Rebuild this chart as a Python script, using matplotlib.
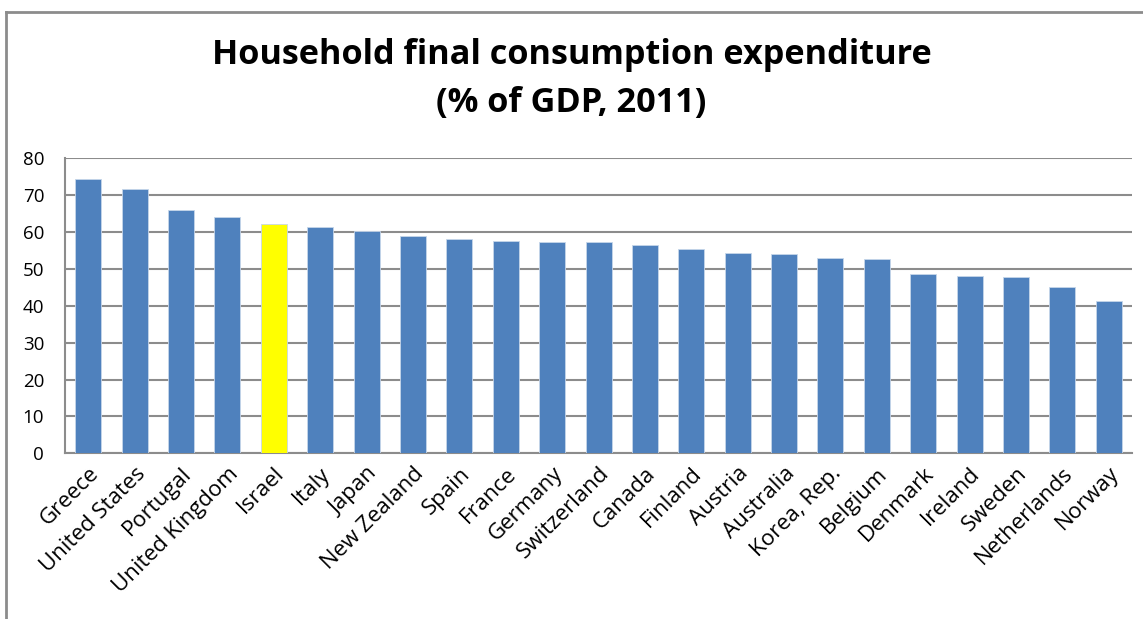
import matplotlib
matplotlib.use("Agg")
import matplotlib.pyplot as plt
from matplotlib.lines import Line2D

countries = ["Greece", "United States", "Portugal", "United Kingdom", "Israel",
             "Italy", "Japan", "New Zealand", "Spain", "France", "Germany",
             "Switzerland", "Canada", "Finland", "Austria", "Australia",
             "Korea, Rep.", "Belgium", "Denmark", "Ireland", "Sweden",
             "Netherlands", "Norway"]
values = [74.5, 71.6, 66.1, 64.2, 62.3, 61.4, 60.4, 59.0, 58.1, 57.7, 57.2,
          57.2, 56.6, 55.3, 54.3, 54.0, 52.9, 52.6, 48.7, 48.2, 47.8, 45.0, 41.2]
highlight = "Israel"
yticks = [0, 10, 20, 30, 40, 50, 60, 70, 80]

BLUE = "#4F81BD"
YELLOW = "#FFFF00"
GRID = "#8C8C8C"

plt.rcParams["font.family"] = ["Open Sans", "DejaVu Sans"]

fig = plt.figure(figsize=(11.43, 6.19), dpi=100)
ax = fig.add_axes([0.0569, 0.2677, 0.9335, 0.4766])

colors = [YELLOW if c == highlight else BLUE for c in countries]
x = list(range(len(countries)))
ax.bar(x, values, width=0.56, color=colors, edgecolor="#C6D6EA",
       linewidth=0.6, zorder=3)

ax.set_xlim(-0.5, len(countries) - 0.5)
ax.set_ylim(0, 80)
ax.set_yticks(yticks)
ax.set_yticklabels([str(v) for v in yticks], fontsize=13.5)
ax.set_xticks(x)
ax.set_xticklabels(countries, rotation=45, ha="right",
                   rotation_mode="anchor", fontsize=16)
ax.tick_params(axis="both", length=0, colors="black")
ax.tick_params(axis="y", pad=15)
ax.tick_params(axis="x", pad=7)

ax.grid(axis="y", color=GRID, linewidth=1.5, zorder=0)
for side in ("top", "right"):
    ax.spines[side].set_visible(False)
ax.spines["left"].set_color(GRID)
ax.spines["left"].set_linewidth(1.5)
ax.spines["bottom"].set_color(GRID)
ax.spines["bottom"].set_linewidth(1.5)

fig.text(0.5, 0.911, "Household final consumption expenditure",
         ha="center", va="center", fontsize=24.7, fontweight="bold")
fig.text(0.5, 0.833, "(% of GDP, 2011)",
         ha="center", va="center", fontsize=24.7, fontweight="bold")

# outer chart frame (top and left edges)
fig.add_artist(Line2D([0.0055, 1.0], [0.981, 0.981], color="#8C8C8C",
                      linewidth=2, transform=fig.transFigure))
fig.add_artist(Line2D([0.0055, 0.0055], [0.0, 0.981], color="#8C8C8C",
                      linewidth=2, transform=fig.transFigure))

fig.savefig("out.png", dpi=100)
